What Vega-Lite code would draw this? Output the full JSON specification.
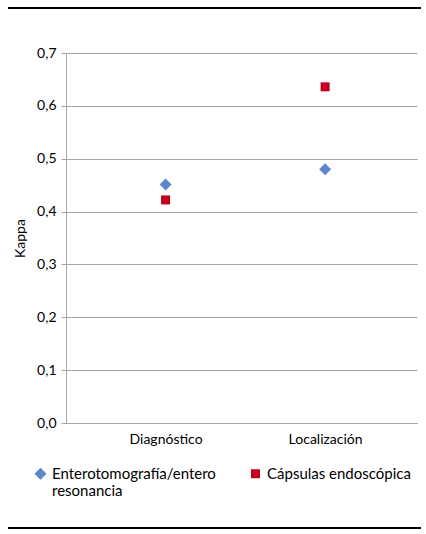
{
  "$schema": "https://vega.github.io/schema/vega-lite/v6.json",
  "padding": {"left": 7, "top": 7, "right": 6, "bottom": 0},
  "background": "white",
  "config": {
    "font": "Lato",
    "view": {"stroke": null},
    "axis": {"labelColor": "#000000", "titleColor": "#000000"}
  },
  "datasets": {
    "kappa": [
      {"categoria": "Diagnóstico", "serie": "Enterotomografía/entero resonancia", "kappa": 0.451},
      {"categoria": "Diagnóstico", "serie": "Cápsulas endoscópica", "kappa": 0.422},
      {"categoria": "Localización", "serie": "Enterotomografía/entero resonancia", "kappa": 0.48},
      {"categoria": "Localización", "serie": "Cápsulas endoscópica", "kappa": 0.636}
    ],
    "arriba": [{"inicio": 0, "fin": 1, "v": 1}],
    "abajo": [{"inicio": 0, "fin": 1, "v": 0}]
  },
  "columns": 1,
  "align": "none",
  "spacing": 0,
  "concat": [
    {
      "width": 351,
      "height": 38,
      "data": {"name": "arriba"},
      "mark": {"type": "rule", "color": "#000000", "strokeWidth": 2},
      "encoding": {
        "x": {"field": "inicio", "type": "quantitative", "scale": {"domain": [0, 1], "range": [-58, 355]}, "axis": null},
        "x2": {"field": "fin"},
        "y": {"field": "v", "type": "quantitative", "scale": {"domain": [0, 1]}, "axis": null}
      }
    },
    {
      "width": 351,
      "height": 370,
      "data": {"name": "kappa"},
      "mark": {"type": "point", "filled": true, "opacity": 1},
      "encoding": {
        "x": {
          "field": "categoria",
          "type": "nominal",
          "sort": ["Diagnóstico", "Localización"],
          "scale": {"type": "point", "padding": 0.6, "align": 0.52},
          "axis": {
            "title": null,
            "labelAngle": 0,
            "ticks": false,
            "tickSize": 0,
            "labelPadding": 9,
            "labelFontSize": 14,
            "domainColor": "#a6a6a6"
          }
        },
        "y": {
          "field": "kappa",
          "type": "quantitative",
          "scale": {"domain": [0, 0.7], "nice": false},
          "axis": {
            "title": "Kappa",
            "titleFontSize": 14,
            "titleFontWeight": "normal",
            "titlePadding": 9,
            "values": [0, 0.1, 0.2, 0.3, 0.4, 0.5, 0.6, 0.7],
            "labelExpr": "replace(format(datum.value, '.1f'), '.', ',')",
            "labelFontSize": 14,
            "labelPadding": 5,
            "tickSize": 5,
            "tickColor": "#a6a6a6",
            "domainColor": "#a6a6a6",
            "gridColor": "#a6a6a6"
          }
        },
        "color": {
          "field": "serie",
          "type": "nominal",
          "scale": {
            "domain": ["Enterotomografía/entero resonancia", "Cápsulas endoscópica"],
            "range": ["#5b87ce", "#c0001e"]
          },
          "legend": {
            "title": null,
            "orient": "none",
            "legendX": -33,
            "legendY": 458,
            "direction": "horizontal",
            "columns": 2,
            "columnPadding": 32,
            "labelFontSize": 15,
            "labelLimit": 300,
            "labelOffset": 4,
            "labelExpr": "datum.label == 'Enterotomografía/entero resonancia' ? ['Enterotomografía/entero', 'resonancia'] : [datum.label, '']",
            "symbolStrokeWidth": 0
          }
        },
        "shape": {
          "field": "serie",
          "type": "nominal",
          "scale": {
            "domain": ["Enterotomografía/entero resonancia", "Cápsulas endoscópica"],
            "range": ["diamond", "square"]
          }
        },
        "size": {
          "field": "serie",
          "type": "nominal",
          "scale": {
            "domain": ["Enterotomografía/entero resonancia", "Cápsulas endoscópica"],
            "range": [144, 81]
          }
        }
      }
    },
    {
      "width": 351,
      "height": 82,
      "data": {"name": "abajo"},
      "mark": {"type": "rule", "color": "#000000", "strokeWidth": 2},
      "encoding": {
        "x": {"field": "inicio", "type": "quantitative", "scale": {"domain": [0, 1], "range": [-58, 355]}, "axis": null},
        "x2": {"field": "fin"},
        "y": {"field": "v", "type": "quantitative", "scale": {"domain": [0, 1]}, "axis": null}
      }
    }
  ]
}
